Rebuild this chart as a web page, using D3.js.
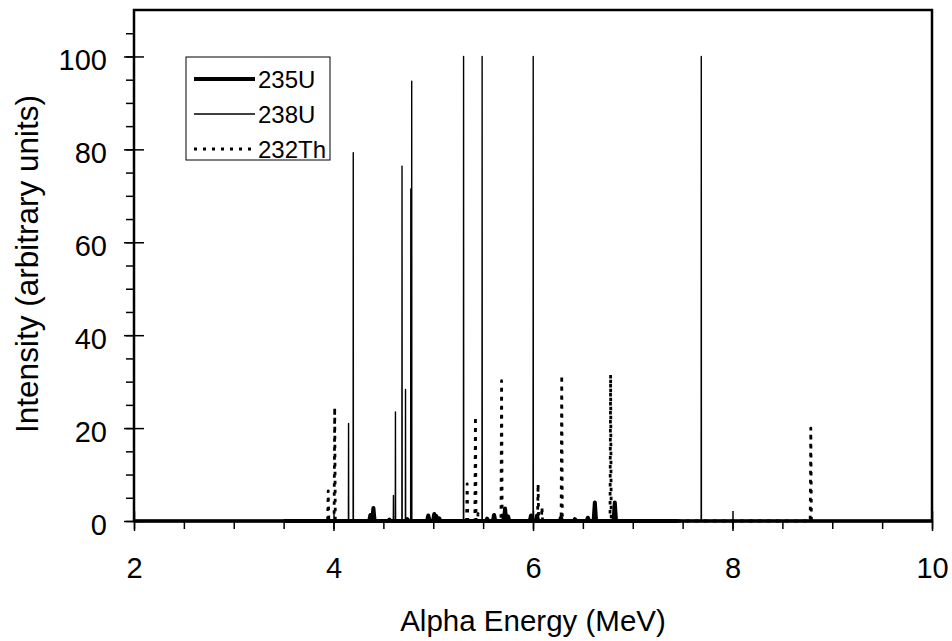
<!DOCTYPE html>
<html>
<head>
<meta charset="utf-8">
<script src="https://cdn.jsdelivr.net/npm/d3@7"></script>
<style>
  body { margin: 0; background: #fff; }
  text { font-family: Arial, "Liberation Sans", sans-serif; fill: #000; }
</style>
</head>
<body>
<div id="chart-area"></div>
<script>
// Peak energies (MeV) and relative intensities
var u235Energy = [4.37, 4.40, 4.56, 4.74, 4.95, 5.01, 5.03, 5.06, 5.54, 5.61, 5.71, 5.72, 5.75, 5.98, 6.04, 6.28, 6.42, 6.55, 6.62, 6.82]
var u235Height = [1.3, 2.8, 0.3, 0.4, 1.2, 1.5, 1.1, 0.6, 0.5, 1.3, 1.0, 2.7, 1.0, 1.2, 1.2, 0.7, 0.4, 0.7, 4.0, 4.0]

var u238Energy = [4.151, 4.198, 4.601, 4.621, 4.687, 4.722, 4.775, 4.784, 5.304, 5.490, 6.002, 7.687]
var u238Height = [21, 79.3, 5.5, 23.5, 76.4, 28.3, 71.5, 94.7, 100, 100, 100, 100]

var th232Energy = [3.947, 4.012, 5.340, 5.423, 5.449, 5.685, 6.051, 6.090, 6.288, 6.778, 8.785]
var th232Height = [6.5, 24.5, 8.0, 22.5, 1.6, 30.2, 8.0, 3.0, 31.4, 31.5, 20.0]

// Energy range covered by each trace (baseline)
var u235Range = [3.5, 7.45]
var u238Range = [3.5, 7.72]
var th232Range = [3.5, 8.8]

var seriesNames = ["235U", "238U", "232Th"]
var xTicks = [2, 4, 6, 8, 10]
var yTicks = [0, 20, 40, 60, 80, 100]

// Canvas
var margin = {top: 10, right: 20, bottom: 120, left: 134},
    width = 952 - margin.left - margin.right,
    height = 641 - margin.top - margin.bottom

var svg = d3.select("#chart-area")
    .append("svg")
        .attr("width", 952)
        .attr("height", 641)

var g = svg.append("g")
    .attr("transform", "translate(" + margin.left + ", " + margin.top + ")")

// Scales
var x = d3.scaleLinear().domain([2, 10]).range([0, width])
var y = d3.scaleLinear().domain([0, 110]).range([height, 0])

// Minor ticks
g.append("g")
    .attr("class", "x-minor")
    .attr("transform", "translate(0, " + height + ")")
    .call(d3.axisBottom(x).tickValues(d3.range(2, 10.01, 0.5)).tickSize(8).tickFormat(""))
g.append("g")
    .attr("class", "y-minor")
    .call(d3.axisLeft(y).tickValues(d3.range(0, 106, 5)).tickSize(8).tickFormat(""))

// Major ticks (cross the axis line)
var xAxisCall = d3.axisBottom(x)
    .tickValues(xTicks)
    .tickSize(10)
    .tickPadding(26)
var xAxis = g.append("g")
    .attr("class", "x-axis")
    .attr("transform", "translate(0, " + height + ")")
    .call(xAxisCall)
xAxis.selectAll(".tick line").attr("y1", -10)

var yAxisCall = d3.axisLeft(y)
    .tickValues(yTicks)
    .tickSize(10)
    .tickPadding(17)
var yAxis = g.append("g")
    .attr("class", "y-axis")
    .call(yAxisCall)
yAxis.selectAll(".tick line").attr("x1", 10)

g.selectAll(".domain").remove()
g.selectAll(".tick line").attr("stroke", "#000").attr("stroke-width", 1.5)
g.selectAll(".tick text")
    .attr("font-size", 29)
    .attr("font-family", "Arial, 'Liberation Sans', sans-serif")
yAxis.selectAll(".tick text").attr("dy", "0.45em")

// Build a spike trace from peak list
function trace(energies, heights, range, halfWidth) {
    var pts = [[range[0], 0]]
    energies.forEach(function(e, i) {
        pts.push([e - halfWidth, 0])
        pts.push([e, heights[i]])
        pts.push([e + halfWidth, 0])
    })
    pts.push([range[1], 0])
    return pts
}

var line = d3.line()
    .x(d => x(d[0]))
    .y(d => y(d[1]))

var traces = [
    {name: seriesNames[0], pts: trace(u235Energy, u235Height, u235Range, 0.012), width: 4, dash: null},
    {name: seriesNames[1], pts: trace(u238Energy, u238Height, u238Range, 0.0015), width: 1.4, dash: null},
    {name: seriesNames[2], pts: trace(th232Energy, th232Height, th232Range, 0.006), width: 2.8, dash: "3.5,5.5"}
]

// Frame
g.append("rect")
    .attr("x", 0)
    .attr("y", 0)
    .attr("width", width)
    .attr("height", height)
    .attr("fill", "none")
    .attr("stroke", "#000")
    .attr("stroke-width", 2.5)

// bottom axis drawn a little heavier, as in the original
g.append("line")
    .attr("x1", 0)
    .attr("x2", width)
    .attr("y1", height)
    .attr("y2", height)
    .attr("stroke", "#000")
    .attr("stroke-width", 3.5)

g.selectAll("path.trace")
    .data(traces)
    .enter()
    .append("path")
        .attr("class", "trace")
        .attr("d", d => line(d.pts))
        .attr("fill", "none")
        .attr("stroke", "#000")
        .attr("stroke-width", d => d.width)
        .attr("stroke-dasharray", d => d.dash)
        .attr("stroke-linejoin", "round")

// Axis labels
g.append("text")
    .attr("x", width / 2)
    .attr("y", height + 110)
    .attr("text-anchor", "middle")
    .attr("font-size", 29.5)
    .text("Alpha Energy (MeV)")

g.append("text")
    .attr("transform", "rotate(-90)")
    .attr("x", -254)
    .attr("y", -96)
    .attr("text-anchor", "middle")
    .attr("font-size", 31.5)
    .text("Intensity (arbitrary units)")

// Legend
var legend = g.append("g")
    .attr("transform", "translate(52, 47)")

legend.append("rect")
    .attr("width", 144)
    .attr("height", 103)
    .attr("fill", "#fff")
    .attr("stroke", "#000")
    .attr("stroke-width", 1)

var items = legend.selectAll("g.item")
    .data(traces)
    .enter()
    .append("g")
        .attr("class", "item")
        .attr("transform", (d, i) => "translate(0, " + (22 + i * 35) + ")")

items.append("line")
    .attr("x1", 8)
    .attr("x2", 69)
    .attr("stroke", "#000")
    .attr("stroke-width", d => d.width)
    .attr("stroke-dasharray", d => d.dash ? "3,6" : null)

items.append("text")
    .attr("x", 72)
    .attr("dy", "0.36em")
    .attr("font-size", 24)
    .text(d => d.name)
</script>
</body>
</html>
